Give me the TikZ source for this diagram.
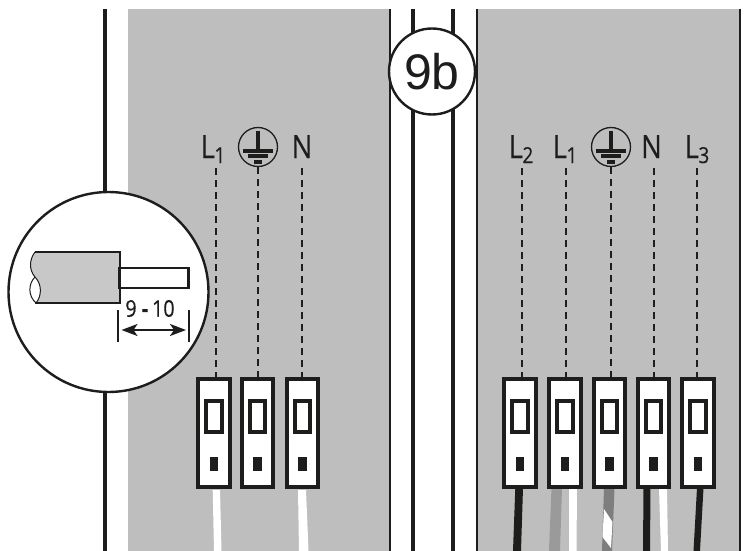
\documentclass[tikz,border=0pt]{standalone}
\usepackage{fontspec}
\setmainfont{Open Sans}
\newfontfamily\narrowfont[FakeStretch=0.86,FakeBold=0.4]{Open Sans}
\newfontfamily\bubblefont{Liberation Sans}
\usetikzlibrary{arrows.meta}
\definecolor{ink}{HTML}{1D1D1B}
\definecolor{panel}{HTML}{BEBEBE}
\definecolor{cablegray}{HTML}{C8C8C8}
\definecolor{wiregray}{HTML}{9A9A9A}
\definecolor{wiredark}{HTML}{7E7E7E}
\newcommand{\subL}[1]{L\kern-0.5pt\raisebox{-5pt}{\fontsize{22}{22}\selectfont #1}}
\tikzset{
  x=1pt,y=-1pt,
  rail/.style={draw=ink,line width=4pt},
  thinrail/.style={draw=ink,line width=1.4pt},
  lab/.style={font=\narrowfont\fontsize{32}{32}\selectfont,text=ink,inner sep=0pt,anchor=base},
  lead/.style={draw=ink,line width=1.3pt,dash pattern=on 7pt off 5pt},
  termbox/.style={draw=ink,fill=white,line width=4pt,minimum width=31.5pt,minimum height=108pt,inner sep=0pt,outer sep=2pt},
  slot/.style={draw=ink,fill=white,line width=4pt,minimum width=15.5pt,minimum height=31pt,inner sep=0pt},
  pin/.style={fill=ink,minimum width=8.5pt,minimum height=14.5pt,inner sep=0pt},
  earthring/.style={circle,draw=ink,line width=1.3pt,minimum size=39pt,inner sep=0pt,outer sep=0.7pt},
  bubble/.style={circle,draw=ink,fill=white,line width=2.4pt,inner sep=0pt},
}
\newcommand{\terminal}[2]{%
  \node[termbox] (#2) at (#1,433) {};
  \node[slot] at (#1,416.5) {};
  \node[pin] at (#1,464) {};
}
\newcommand{\earthsym}[2]{%
  \node[earthring] (#2) at (#1,147) {};
  \fill[ink] (#1-2.1,131) rectangle (#1+2.1,152);
  \fill[ink] (#1-15,149) rectangle (#1+15,152.7);
  \fill[ink] (#1-10.3,154.2) rectangle (#1+10.3,158.4);
  \fill[ink] (#1-4,160) rectangle (#1+4,163.6);
}
\begin{document}
\begin{tikzpicture}
\useasboundingbox (0,0) rectangle (753,551);
\fill[white] (0,0) rectangle (753,551);
% panels
\fill[panel] (128,9) rectangle (390,551);
\fill[panel] (477,9) rectangle (740,551);
\draw[thinrail] (390,9) -- (390,551);
\draw[thinrail] (477,9) -- (477,551);
\draw[thinrail] (740,9) -- (740,551);
\draw[rail] (105,9) -- (105,551);
\draw[rail] (413,9) -- (413,551);
\draw[rail] (453,9) -- (453,551);
% wires, left
\fill[white] (212.7,490) -- (220,490) -- (221.5,551) -- (214,551) -- cycle;
\fill[white] (298,490) -- (306,490) -- (308.5,551) -- (299,551) -- cycle;
% wires, right
\fill[ink] (515.3,488) -- (523,488) -- (521,551) -- (513,551) -- cycle;
\fill[wiregray] (551.5,488) -- (562,488) -- (560,551) -- (549,551) -- cycle;
\fill[white] (569,488) -- (577,488) -- (576.5,551) -- (569,551) -- cycle;
\fill[wiredark] (604,488) -- (614.5,488) -- (612,551) -- (602,551) -- cycle;
\fill[white] (604,509) -- (612.5,522) -- (611,548) -- (602.5,537) -- cycle;
\fill[ink] (643.5,488) -- (650.5,488) -- (650,551) -- (643,551) -- cycle;
\fill[white] (659,488) -- (667,488) -- (668,551) -- (661,551) -- cycle;
\fill[ink] (697,488) -- (703.5,488) -- (700,551) -- (693.5,551) -- cycle;
% terminals
\terminal{214}{ta}
\terminal{257.5}{tb}
\terminal{302.5}{tc}
\terminal{520}{td}
\terminal{565}{te}
\terminal{609.5}{tf}
\terminal{653.5}{tg}
\terminal{698}{th}
% labels
\node[lab] (la) at (213,158) {\subL{1}};
\earthsym{258}{ea}
\node[lab] (lc) at (302,158) {N};
\node[lab] (ld) at (521,158) {\subL{2}};
\node[lab] (le) at (565,158) {\subL{1}};
\earthsym{611}{eb}
\node[lab] (lg) at (651.5,158) {N};
\node[lab] (lh) at (697,158) {\subL{3}};
% leaders
\coordinate (la0) at (216,168);
\coordinate (lc0) at (302,168);
\coordinate (ld0) at (522,168);
\coordinate (le0) at (566,168);
\coordinate (lg0) at (654,168);
\coordinate (lh0) at (697,168);
\draw[lead] (la0) -- (la0 |- ta.north);
\draw[lead] (ea.south) -- (ea.south |- tb.north);
\draw[lead] (lc0) -- (lc0 |- tc.north);
\draw[lead] (ld0) -- (ld0 |- td.north);
\draw[lead] (le0) -- (le0 |- te.north);
\draw[lead] (eb.south) -- (eb.south |- tf.north);
\draw[lead] (lg0) -- (lg0 |- tg.north);
\draw[lead] (lh0) -- (lh0 |- th.north);
% 9b bubble
\node[bubble,minimum size=86pt,font=\bubblefont\fontsize{50}{50}\selectfont,text=ink] (nine) at (432,71.5) {9b};
% detail bubble
\node[bubble,minimum size=200pt] (detail) at (108.5,292) {};
\fill[cablegray] (35,252) -- (119.5,252) -- (119.5,303) -- (36,303)
  .. controls (42,296) and (42,284) .. (35,277)
  .. controls (29,270) and (29,260) .. (35,252) -- cycle;
\draw[draw=ink,line width=1pt] (35,252) .. controls (29,260) and (29,270) .. (35,277)
  .. controls (42,284) and (42,296) .. (36,303);
\draw[draw=ink,line width=1pt] (35,277) .. controls (28,284) and (28,296) .. (36,303);
\draw[draw=ink,line width=2pt] (35,252) -- (119.5,252) -- (119.5,303);
\draw[draw=ink,line width=2.6pt] (35,303) -- (120.5,303);
\draw[draw=ink,line width=2.4pt,fill=white] (119.5,268) rectangle (188.5,288);
\node[font=\narrowfont\fontsize{23}{23}\selectfont,text=ink,inner sep=0pt] (dimt) at (150,308.5) {9 {\fontseries{b}\selectfont -}\,10};
\coordinate (dlt) at (118,310);
\coordinate (dlb) at (118,342);
\coordinate (drt) at (189,310);
\coordinate (drb) at (189,342);
\coordinate (dl) at (121.5,330);
\coordinate (dr) at (186,330);
\draw[draw=ink,line width=2pt] (dlt) -- (dlb);
\draw[draw=ink,line width=2pt] (drt) -- (drb);
\draw[draw=ink,line width=2pt,{Stealth[length=16pt,width=12pt,inset=4pt]}-{Stealth[length=16pt,width=12pt,inset=4pt]}] (dl) -- (dr);
\end{tikzpicture}
\end{document}
